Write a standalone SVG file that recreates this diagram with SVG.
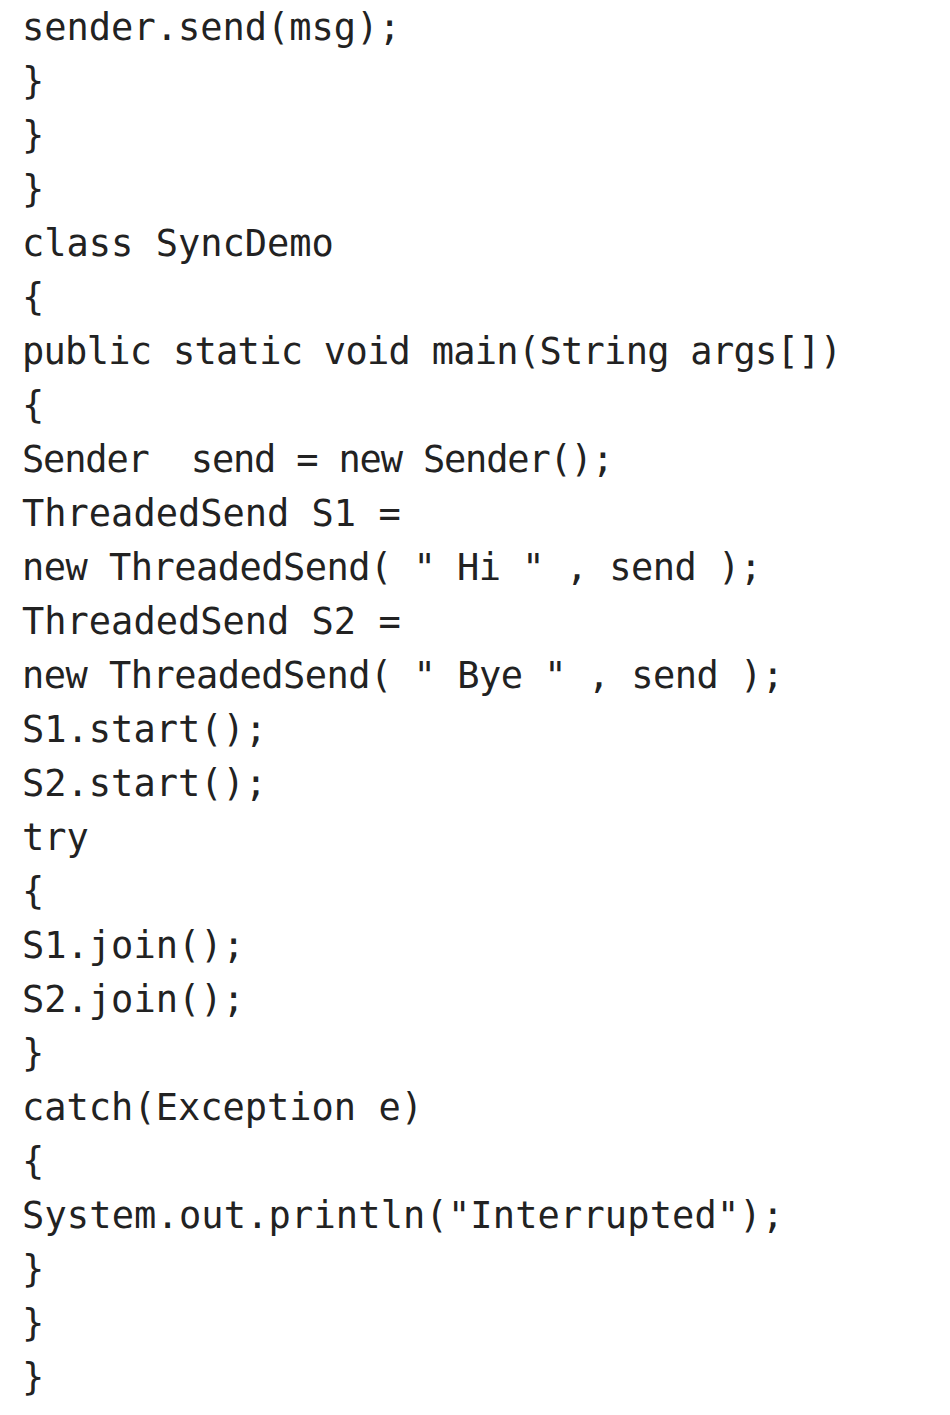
<svg xmlns="http://www.w3.org/2000/svg" width="950" height="1415" viewBox="0 0 950 1415">
<style>text{font-family:"DejaVu Sans Mono","Liberation Mono",monospace;font-size:37px;fill:#222;white-space:pre}</style>
<rect width="950" height="1415" fill="#fff"/>
<g id="code" xml:space="preserve">
<text x="22" y="40">sender.send(msg);</text>
<text x="22" y="94">}</text>
<text x="22" y="148">}</text>
<text x="22" y="202">}</text>
<text x="22" y="256">class SyncDemo</text>
<text x="22" y="310">{</text>
<text x="22" y="364" textLength="820">public static void main(String args[])</text>
<text x="22" y="418">{</text>
<text x="22" y="472" textLength="592">Sender  send = new Sender();</text>
<text x="22" y="526">ThreadedSend S1 =</text>
<text x="22" y="580" textLength="740">new ThreadedSend( " Hi " , send );</text>
<text x="22" y="634">ThreadedSend S2 =</text>
<text x="22" y="688" textLength="762">new ThreadedSend( " Bye " , send );</text>
<text x="22" y="742">S1.start();</text>
<text x="22" y="796">S2.start();</text>
<text x="22" y="850">try</text>
<text x="22" y="904">{</text>
<text x="22" y="958">S1.join();</text>
<text x="22" y="1012">S2.join();</text>
<text x="22" y="1066">}</text>
<text x="22" y="1120">catch(Exception e)</text>
<text x="22" y="1174">{</text>
<text x="22" y="1228" textLength="762">System.out.println("Interrupted");</text>
<text x="22" y="1282">}</text>
<text x="22" y="1336">}</text>
<text x="22" y="1390">}</text>
</g>
</svg>
